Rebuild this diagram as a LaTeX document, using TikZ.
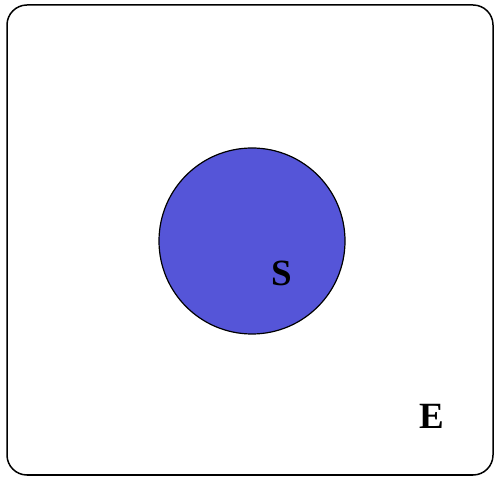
\documentclass[tikz,border=0pt]{standalone}
\usepackage{fontspec}
\setmainfont{Liberation Serif}
\usepackage{xcolor}
\definecolor{setblue}{RGB}{85,85,216}

\begin{document}
\begin{tikzpicture}[x=1pt,y=1pt,line cap=round,
  lbl/.style={font=\fontsize{37}{40}\selectfont\bfseries,inner sep=0pt}]
\useasboundingbox (0,0) rectangle (494,478);
\draw[line width=1.5pt,rounded corners=20pt] (7,3) rectangle (493,473);
\node[circle,draw,line width=1.2pt,fill=setblue,minimum size=186pt,inner sep=0pt] (setS) at (252,237) {};
\node[lbl] (S) at (282,205) {S};
\node[lbl] (E) at (432,62) {E};
\end{tikzpicture}
\end{document}
